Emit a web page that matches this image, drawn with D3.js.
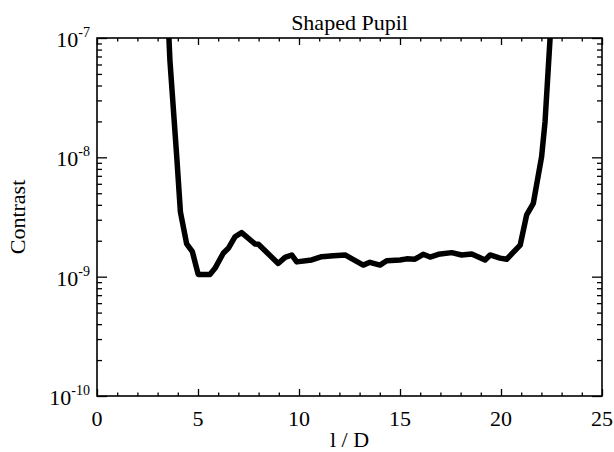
<!DOCTYPE html>
<html><head><meta charset="utf-8">
<script src="https://cdn.jsdelivr.net/npm/d3@7"></script>
<style>body{margin:0;background:#fff}svg{display:block}</style></head>
<body>
<svg id="c" width="614" height="452"></svg>
<script>
// Data
const lambdaOverD = [3.53, 3.61, 3.95, 4.13, 4.44, 4.72, 5.01, 5.59, 5.84, 6.25, 6.50, 6.83, 7.16, 7.82, 7.99, 8.97, 9.31, 9.64, 9.89, 10.63, 11.12, 11.70, 12.28, 13.18, 13.51, 14.01, 14.34, 15.00, 15.33, 15.74, 16.15, 16.49, 16.90, 17.56, 18.05, 18.55, 19.21, 19.46, 19.95, 20.28, 20.95, 21.27, 21.60, 22.01, 22.18, 22.43, 22.48];
const contrast = [1.3e-7, 6.5e-8, 1.0e-8, 3.48e-9, 1.88e-9, 1.62e-9, 1.045e-9, 1.045e-9, 1.175e-9, 1.57e-9, 1.73e-9, 2.16e-9, 2.34e-9, 1.88e-9, 1.87e-9, 1.29e-9, 1.45e-9, 1.52e-9, 1.33e-9, 1.38e-9, 1.47e-9, 1.50e-9, 1.52e-9, 1.25e-9, 1.32e-9, 1.25e-9, 1.36e-9, 1.38e-9, 1.41e-9, 1.40e-9, 1.54e-9, 1.46e-9, 1.54e-9, 1.59e-9, 1.52e-9, 1.55e-9, 1.38e-9, 1.52e-9, 1.43e-9, 1.40e-9, 1.84e-9, 3.29e-9, 4.12e-9, 1.01e-8, 1.98e-8, 1.0e-7, 1.4e-7];
const xTickValues = [0, 5, 10, 15, 20, 25];
const xTickLabels = ["0", "5", "10", "15", "20", "25"];
const yTickValues = [1e-10, 1e-9, 1e-8, 1e-7];
const yTickExponents = ["-10", "-9", "-8", "-7"];
const titleText = "Shaped Pupil";
const xLabelText = "l / D";
const yLabelText = "Contrast";

const W = 614, H = 452;
const L = 97, R = 602, T = 38, B = 396;
const font = "'Liberation Serif','Times New Roman',serif";

const svg = d3.select("#c");
const x = d3.scaleLinear().domain([0, 25]).range([L, R]);
const y = d3.scaleLog().domain([1e-10, 1e-7]).range([B, T]);

const xMinor = d3.range(0, 26, 1).filter(v => v % 5 !== 0);
const yMinor = [];
[-10, -9, -8].forEach(e => { for (let m = 2; m <= 9; m++) yMinor.push(m * Math.pow(10, e)); });

function ax(gen, tx, ty) {
  const g = svg.append("g").attr("transform", `translate(${tx},${ty})`).call(gen);
  g.select(".domain").remove();
  g.selectAll("line").attr("stroke", "#000").attr("stroke-width", 1.3);
  g.selectAll("text").remove();
  return g;
}
// bottom / top
ax(d3.axisBottom(x).tickValues(xTickValues).tickSize(-7).tickFormat(""), 0, B);
ax(d3.axisBottom(x).tickValues(xMinor).tickSize(-3.5).tickFormat(""), 0, B);
ax(d3.axisTop(x).tickValues(xTickValues).tickSize(-7).tickFormat(""), 0, T);
ax(d3.axisTop(x).tickValues(xMinor).tickSize(-3.5).tickFormat(""), 0, T);
// left / right
ax(d3.axisLeft(y).tickValues(yTickValues).tickSize(-10).tickFormat(""), L, 0);
ax(d3.axisLeft(y).tickValues(yMinor).tickSize(-5).tickFormat(""), L, 0);
ax(d3.axisRight(y).tickValues(yTickValues).tickSize(-10).tickFormat(""), R, 0);
ax(d3.axisRight(y).tickValues(yMinor).tickSize(-5).tickFormat(""), R, 0);

// frame
svg.append("rect").attr("x", L).attr("y", T).attr("width", R - L).attr("height", B - T)
  .attr("fill", "none").attr("stroke", "#000").attr("stroke-width", 1.6);

// clip + line
svg.append("clipPath").attr("id", "clip").append("rect")
  .attr("x", L).attr("y", T).attr("width", R - L).attr("height", B - T);
const pts = lambdaOverD.map((v, i) => [v, contrast[i]]);
svg.append("path").datum(pts)
  .attr("clip-path", "url(#clip)")
  .attr("fill", "none").attr("stroke", "#000").attr("stroke-width", 5.5)
  .attr("stroke-linejoin", "round")
  .attr("d", d3.line().x(d => x(d[0])).y(d => y(d[1])));

// x tick labels
svg.append("g").selectAll("text").data(xTickValues).join("text")
  .attr("x", d => x(d)).attr("y", 426)
  .attr("text-anchor", "middle").attr("font-family", font).attr("font-size", 22)
  .text((d, i) => xTickLabels[i]);

// y tick labels
const yl = svg.append("g").selectAll("text").data(yTickValues).join("text")
  .attr("x", 90).attr("y", d => y(d) + 9)
  .attr("text-anchor", "end").attr("font-family", font).attr("font-size", 22);
yl.append("tspan").text("10");
yl.append("tspan").attr("font-size", 14).attr("dy", -10).text((d, i) => yTickExponents[i]);

// title & axis labels
svg.append("text").attr("x", (L + R) / 2).attr("y", 30).attr("text-anchor", "middle")
  .attr("font-family", font).attr("font-size", 22).text(titleText);
svg.append("text").attr("x", (L + R) / 2).attr("y", 447).attr("text-anchor", "middle")
  .attr("font-family", font).attr("font-size", 22).text(xLabelText);
svg.append("text").attr("transform", `translate(25,${(T + B) / 2}) rotate(-90)`)
  .attr("text-anchor", "middle").attr("font-family", font).attr("font-size", 22).text(yLabelText);
</script>
</body></html>
